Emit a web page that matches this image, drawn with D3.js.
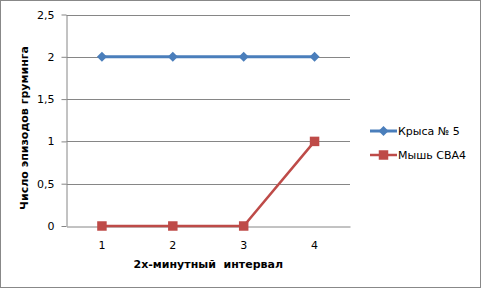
<!DOCTYPE html>
<html>
<head>
<meta charset="utf-8">
<script src="https://cdn.jsdelivr.net/npm/d3@7"></script>
<style>
  body { margin: 0; background: #fff; }
  svg text { font-family: "DejaVu Sans", Verdana, sans-serif; white-space: pre; }
</style>
</head>
<body>
<div id="chart"></div>
<script>
const categories = ['1', '2', '3', '4'];
const ratValues = [2, 2, 2, 2];
const mouseValues = [0, 0, 0, 1];
const yTicks = [0, 0.5, 1, 1.5, 2, 2.5];
const seriesNames = ['Крыса № 5', 'Мышь CBA4'];

const width = 481, height = 288;
const margin = { top: 14.5, left: 66.5, right: 131, bottom: 62 };

const svg = d3.select('#chart').append('svg')
  .attr('width', width)
  .attr('height', height);

svg.append('rect')
  .attr('x', 0.5).attr('y', 0.5)
  .attr('width', width - 1).attr('height', height - 1)
  .attr('fill', '#fff')
  .attr('stroke', '#888');

const x = d3.scaleBand().domain(categories).range([margin.left, width - margin.right]);
const y = d3.scaleLinear().domain([0, 2.5]).range([height - margin.bottom, margin.top]);

const fmt = d => String(d).replace('.', ',');

// gridlines
svg.append('g')
  .selectAll('line')
  .data(yTicks.filter(d => d > 0))
  .enter().append('line')
  .attr('x1', margin.left).attr('x2', width - margin.right)
  .attr('y1', d => Math.round(y(d)) + 0.5).attr('y2', d => Math.round(y(d)) + 0.5)
  .attr('stroke', '#868686');

const yAxis = svg.append('g')
  .attr('transform', 'translate(' + margin.left + ',0)')
  .call(d3.axisLeft(y).tickValues(yTicks).tickFormat(fmt).tickSize(5).tickSizeOuter(0));
yAxis.select('.domain').attr('stroke', '#868686');
yAxis.selectAll('.tick line').attr('stroke', '#868686');
yAxis.selectAll('.tick text').attr('font-size', 11).attr('fill', '#000').attr('x', -12);

const xAxis = svg.append('g')
  .attr('transform', 'translate(0,' + (Math.round(y(0)) + 0.5) + ')')
  .call(d3.axisBottom(x).tickSize(0).tickSizeOuter(0));
xAxis.select('.domain').attr('stroke', '#868686');
xAxis.selectAll('.tick text').attr('font-size', 11).attr('fill', '#000').attr('dy', 0).attr('y', 22);

svg.append('text')
  .attr('x', x('2') + x.bandwidth())
  .attr('y', 268)
  .attr('text-anchor', 'middle')
  .attr('font-size', 11)
  .attr('font-weight', 'bold')
  .text('2х-минутный  интервал');

svg.append('text')
  .attr('transform', 'translate(28,128) rotate(-90)')
  .attr('text-anchor', 'middle')
  .attr('font-size', 11)
  .attr('font-weight', 'bold')
  .text('Число эпизодов груминга');

const line = d3.line()
  .x((d, i) => x(categories[i]) + x.bandwidth() / 2)
  .y(d => y(d));

const series = [
  { name: seriesNames[0], values: ratValues, color: '#4A7EBB', marker: 'diamond', width: 3 },
  { name: seriesNames[1], values: mouseValues, color: '#BE4B48', marker: 'square', width: 2.5 }
];

const sym = {
  diamond: 'M0,-5L5,0L0,5L-5,0Z',
  square: d3.symbol().type(d3.symbolSquare).size(90)()
};

series.forEach(s => {
  svg.append('path')
    .attr('d', line(s.values))
    .attr('fill', 'none')
    .attr('stroke', s.color)
    .attr('stroke-width', s.width);
  svg.selectAll(null)
    .data(s.values)
    .enter().append('path')
    .attr('d', sym[s.marker])
    .attr('transform', (d, i) => 'translate(' + (x(categories[i]) + x.bandwidth() / 2) + ',' + y(d) + ')')
    .attr('fill', s.color);
});

const legend = svg.append('g');
series.forEach((s, i) => {
  const ly = 131 + i * 24;
  legend.append('line')
    .attr('x1', 370).attr('x2', 397)
    .attr('y1', ly).attr('y2', ly)
    .attr('stroke', s.color).attr('stroke-width', s.width);
  legend.append('path')
    .attr('d', sym[s.marker])
    .attr('transform', 'translate(383.5,' + ly + ')')
    .attr('fill', s.color);
  legend.append('text')
    .attr('x', 398).attr('y', ly + 4)
    .attr('font-size', 11)
    .text(s.name);
});
</script>
</body>
</html>
